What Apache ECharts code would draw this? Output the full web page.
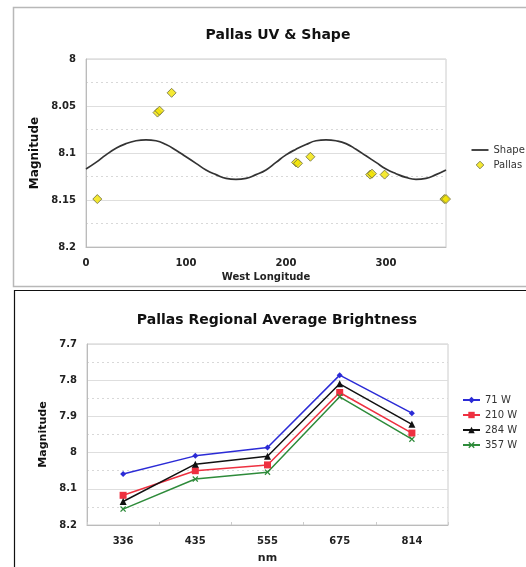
<!DOCTYPE html>
<html><head><meta charset="utf-8">
<script src="https://cdn.jsdelivr.net/npm/echarts@6/dist/echarts.min.js"></script>
<style>html,body{margin:0;padding:0;background:#fff}#c{width:526px;height:567px}</style>
</head><body><div id="c"></div>
<script>
// ---- Chart 1: Pallas UV & Shape ----
const shapeLon = [0,10,20,30,40,50,60,70,80,90,100,110,120,130,140,150,160,170,180,190,200,210,220,230,240,250,260,270,280,290,300,310,320,330,340,350,360];
const shapeMag = [8.117,8.110,8.102,8.095,8.090,8.087,8.086,8.087,8.091,8.097,8.104,8.111,8.118,8.123,8.127,8.128,8.127,8.123,8.118,8.110,8.102,8.096,8.091,8.087,8.086,8.087,8.090,8.096,8.103,8.110,8.117,8.122,8.126,8.128,8.127,8.123,8.118];
const pallasLon = [11.3,71.5,73.5,85.6,210,212,224.4,284.2,286,298.6,358.4,360];
const pallasMag = [8.149,8.057,8.055,8.036,8.110,8.111,8.104,8.123,8.122,8.123,8.149,8.149];
const yTicks1 = [8,8.05,8.1,8.15,8.2];

// ---- Chart 2: Pallas Regional Average Brightness ----
const wavelengths = ['336','435','555','675','814'];
const seriesNames = ['71 W','210 W','284 W','357 W'];
const w71 = [8.059,8.009,7.986,7.786,7.891];
const w210 = [8.118,8.050,8.034,7.834,7.946];
const w284 = [8.135,8.032,8.010,7.810,7.922];
const w357 = [8.156,8.073,8.054,7.846,7.963];
const yTicks2 = [7.7,7.8,7.9,8,8.1,8.2];

const FONT = 'DejaVu Sans';
const lbl = {fontFamily: FONT, fontWeight: 'bold', fontSize: 10, color: '#222'};
const fmt = v => String(+(+v).toFixed(2));
const xMark = 'path://M0,1.5 L1.5,0 L5,3.5 L8.5,0 L10,1.5 L6.5,5 L10,8.5 L8.5,10 L5,6.5 L1.5,10 L0,8.5 L3.5,5 Z';
const lineIcon = 'path://M0,0 M17,8 M0,3.1 L17,3.1 L17,4.9 L0,4.9 Z';
const diamondIcon = 'path://M0,0 M17,8 M8.5,0.2 L12.3,4 L8.5,7.8 L4.7,4 Z';

const chart = echarts.init(document.getElementById('c'), null, {renderer: 'canvas'});
chart.setOption({
  animation: false,
  backgroundColor: '#fff',
  graphic: [
    {type: 'rect', shape: {x: 13.5, y: 7.5, width: 530, height: 279}, style: {fill: 'none', stroke: '#b8b8b8', lineWidth: 1.5}, z: -10},
    {type: 'rect', shape: {x: 14.5, y: 290.5, width: 530, height: 290}, style: {fill: 'none', stroke: '#111', lineWidth: 1.2}, z: -10}
  ],
  title: [
    {text: 'Pallas UV & Shape', left: 273, top: 23, textAlign: 'center', textStyle: {fontFamily: FONT, fontWeight: 'bold', fontSize: 14, color: '#111'}},
    {text: 'Pallas Regional Average Brightness', left: 272, top: 308, textAlign: 'center', textStyle: {fontFamily: FONT, fontWeight: 'bold', fontSize: 14, color: '#111'}}
  ],
  legend: [
    {data: [{name: 'Shape', icon: lineIcon, itemStyle: {color: '#333', borderWidth: 0}},
            {name: 'Pallas', icon: diamondIcon, itemStyle: {color: '#f3e400', borderColor: '#6b6b40', borderWidth: 1}}],
     orient: 'vertical', left: 466, top: 140, itemWidth: 17, itemHeight: 8, itemGap: 5,
     textStyle: {fontFamily: FONT, fontSize: 10, color: '#333'}},
    {data: seriesNames, orient: 'vertical', left: 457, top: 390, itemWidth: 17, itemHeight: 8, itemGap: 5,
     textStyle: {fontFamily: FONT, fontSize: 10, color: '#333'}}
  ],
  grid: [
    {left: 86, top: 59, width: 360, height: 188, show: true, borderColor: '#ccc', borderWidth: 1},
    {left: 87, top: 344, width: 361, height: 181, show: true, borderColor: '#ccc', borderWidth: 1}
  ],
  xAxis: [
    {gridIndex: 0, type: 'value', min: 0, max: 360, interval: 100,
     name: 'West Longitude', nameLocation: 'middle', nameGap: 25,
     nameTextStyle: {fontFamily: FONT, fontWeight: 'bold', fontSize: 10, color: '#222'},
     axisLine: {lineStyle: {color: '#bbb'}}, axisTick: {show: false},
     axisLabel: Object.assign({showMaxLabel: false, margin: 11}, lbl), splitLine: {show: false}},
    {gridIndex: 1, type: 'category', data: wavelengths, boundaryGap: true,
     name: 'nm', nameLocation: 'middle', nameGap: 28,
     nameTextStyle: {fontFamily: FONT, fontWeight: 'bold', fontSize: 11, color: '#222'},
     axisLine: {lineStyle: {color: '#bbb'}}, axisTick: {show: true, inside: true, length: 3, lineStyle: {color: '#ccc'}},
     axisLabel: Object.assign({margin: 11}, lbl), splitLine: {show: false}}
  ],
  yAxis: [
    {gridIndex: 0, type: 'value', inverse: true, min: yTicks1[0], max: yTicks1[yTicks1.length-1], interval: 0.05,
     name: 'Magnitude', nameLocation: 'middle', nameGap: 40, nameRotate: 90,
     nameTextStyle: {fontFamily: FONT, fontWeight: 'bold', fontSize: 12, color: '#111'},
     axisLine: {show: true, lineStyle: {color: '#bbb'}}, axisTick: {show: false},
     axisLabel: Object.assign({formatter: fmt, margin: 10}, lbl),
     splitLine: {show: true, lineStyle: {color: '#dedede', width: 1}},
     minorTick: {show: false, splitNumber: 2},
     minorSplitLine: {show: true, lineStyle: {color: '#d8d8d8', type: [2, 3]}}},
    {gridIndex: 1, type: 'value', inverse: true, min: yTicks2[0], max: yTicks2[yTicks2.length-1], interval: 0.1,
     name: 'Magnitude', nameLocation: 'middle', nameGap: 36, nameRotate: 90,
     nameTextStyle: {fontFamily: FONT, fontWeight: 'bold', fontSize: 11, color: '#111'},
     axisLine: {show: true, lineStyle: {color: '#bbb'}}, axisTick: {show: false},
     axisLabel: Object.assign({formatter: fmt, margin: 10}, lbl),
     splitLine: {show: true, lineStyle: {color: '#dedede', width: 1}},
     minorTick: {show: false, splitNumber: 2},
     minorSplitLine: {show: true, lineStyle: {color: '#d8d8d8', type: [2, 3]}}}
  ],
  series: [
    {name: 'Shape', type: 'line', xAxisIndex: 0, yAxisIndex: 0, data: shapeLon.map((x, i) => [x, shapeMag[i]]),
     smooth: true, symbol: 'none', lineStyle: {color: '#333', width: 1.7}, itemStyle: {color: '#333'}},
    {name: 'Pallas', type: 'scatter', xAxisIndex: 0, yAxisIndex: 0, data: pallasLon.map((x, i) => [x, pallasMag[i]]),
     symbol: 'diamond', symbolSize: 9, itemStyle: {color: '#f3e400', borderColor: '#6b6b40', borderWidth: 1}},
    {name: seriesNames[0], type: 'line', xAxisIndex: 1, yAxisIndex: 1, data: w71, symbol: 'diamond', symbolSize: 6,
     lineStyle: {color: '#2b2bd6', width: 1.5}, itemStyle: {color: '#2b2bd6'}},
    {name: seriesNames[1], type: 'line', xAxisIndex: 1, yAxisIndex: 1, data: w210, symbol: 'rect', symbolSize: 7,
     lineStyle: {color: '#ee3040', width: 1.5}, itemStyle: {color: '#ee3040'}},
    {name: seriesNames[2], type: 'line', xAxisIndex: 1, yAxisIndex: 1, data: w284, symbol: 'triangle', symbolSize: 7,
     lineStyle: {color: '#111', width: 1.5}, itemStyle: {color: '#111'}},
    {name: seriesNames[3], type: 'line', xAxisIndex: 1, yAxisIndex: 1, data: w357, symbol: xMark, symbolSize: 6,
     lineStyle: {color: '#2e8b3a', width: 1.5}, itemStyle: {color: '#2e8b3a'}}
  ]
});
</script></body></html>
